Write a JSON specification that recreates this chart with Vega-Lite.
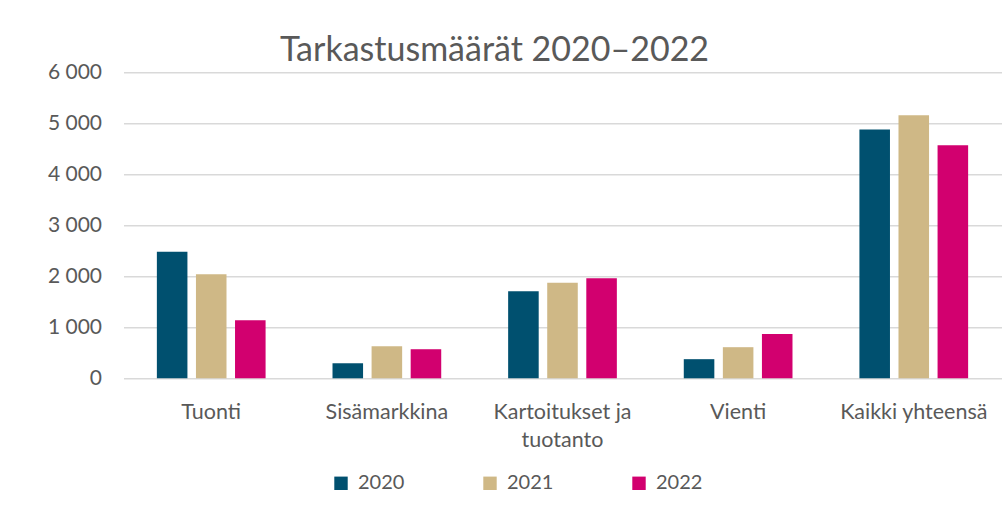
{
  "$schema": "https://vega.github.io/schema/vega-lite/v6.json",
  "width": 878,
  "height": 306,
  "autosize": {"type": "none"},
  "padding": {"left": 123.5, "top": 72.3, "right": 2.5, "bottom": 149.7},
  "background": "white",
  "title": {
    "text": "Tarkastusmäärät 2020–2022",
    "font": "Lato",
    "fontSize": 34,
    "fontWeight": "normal",
    "color": "#595959",
    "anchor": "middle",
    "frame": "group",
    "dx": -68,
    "baseline": "alphabetic",
    "offset": -34
  },
  "data": {
    "values": [
      {"kategoria": "Tuonti", "vuosi": "2020", "maara": 2480},
      {"kategoria": "Tuonti", "vuosi": "2021", "maara": 2040},
      {"kategoria": "Tuonti", "vuosi": "2022", "maara": 1140},
      {"kategoria": "Sisämarkkina", "vuosi": "2020", "maara": 295},
      {"kategoria": "Sisämarkkina", "vuosi": "2021", "maara": 630},
      {"kategoria": "Sisämarkkina", "vuosi": "2022", "maara": 570},
      {"kategoria": "Kartoitukset ja tuotanto", "vuosi": "2020", "maara": 1705},
      {"kategoria": "Kartoitukset ja tuotanto", "vuosi": "2021", "maara": 1875},
      {"kategoria": "Kartoitukset ja tuotanto", "vuosi": "2022", "maara": 1960},
      {"kategoria": "Vienti", "vuosi": "2020", "maara": 375},
      {"kategoria": "Vienti", "vuosi": "2021", "maara": 610},
      {"kategoria": "Vienti", "vuosi": "2022", "maara": 870},
      {"kategoria": "Kaikki yhteensä", "vuosi": "2020", "maara": 4880},
      {"kategoria": "Kaikki yhteensä", "vuosi": "2021", "maara": 5160},
      {"kategoria": "Kaikki yhteensä", "vuosi": "2022", "maara": 4570}
    ]
  },
  "mark": {"type": "bar"},
  "encoding": {
    "x": {
      "field": "kategoria",
      "type": "nominal",
      "sort": ["Tuonti", "Sisämarkkina", "Kartoitukset ja tuotanto", "Vienti", "Kaikki yhteensä"],
      "scale": {"paddingInner": 0.381, "paddingOuter": 0.19},
      "axis": {
        "title": null,
        "labelAngle": 0,
        "domain": false,
        "ticks": false,
        "grid": false,
        "labelFont": "Lato",
        "labelFontSize": 21.5,
        "labelColor": "#595959",
        "labelPadding": 40,
        "labelBaseline": "alphabetic",
        "labelLineHeight": 28.5,
        "labelLimit": 300,
        "labelExpr": "datum.value == 'Kartoitukset ja tuotanto' ? ['Kartoitukset ja', 'tuotanto'] : datum.value"
      }
    },
    "xOffset": {
      "field": "vuosi",
      "type": "nominal",
      "scale": {"paddingInner": 0.218, "paddingOuter": 0}
    },
    "y": {
      "field": "maara",
      "type": "quantitative",
      "scale": {"domain": [0, 6000], "nice": false},
      "axis": {
        "title": null,
        "values": [0, 1000, 2000, 3000, 4000, 5000, 6000],
        "domain": false,
        "ticks": false,
        "grid": true,
        "gridColor": "#d9d9d9",
        "gridWidth": 1.5,
        "labelFont": "Lato",
        "labelFontSize": 21,
        "labelColor": "#595959",
        "labelPadding": 22,
        "labelExpr": "replace(format(datum.value, ','), ',', ' ')"
      }
    },
    "color": {
      "field": "vuosi",
      "type": "nominal",
      "scale": {"domain": ["2020", "2021", "2022"], "range": ["#00506f", "#cfb886", "#d2006f"]},
      "legend": {
        "title": null,
        "orient": "none",
        "legendX": 207.5,
        "legendY": 401,
        "direction": "horizontal",
        "symbolType": "square",
        "symbolSize": 180,
        "symbolStrokeWidth": 0,
        "labelFont": "Lato",
        "labelFontSize": 20,
        "labelColor": "#595959",
        "labelOffset": 7,
        "columnPadding": 75,
        "padding": 0
      }
    }
  },
  "config": {
    "font": "Lato",
    "view": {"stroke": null}
  }
}
